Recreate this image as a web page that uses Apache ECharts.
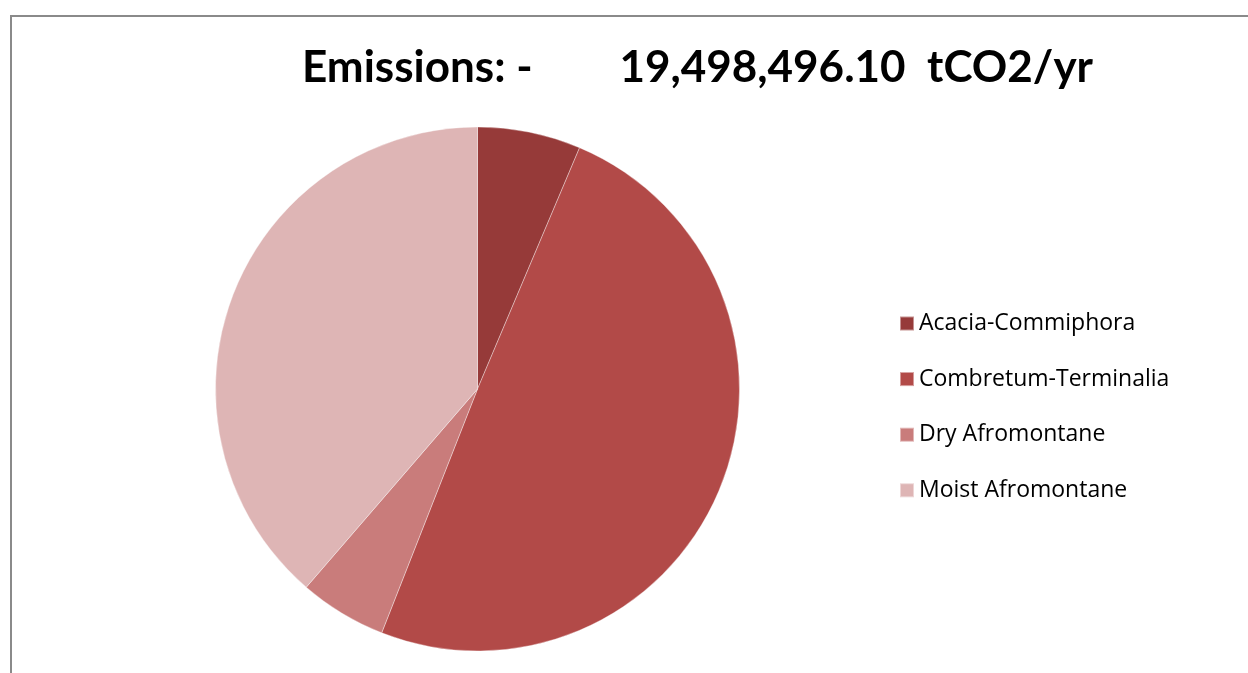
<!DOCTYPE html>
<html>
<head>
<meta charset="utf-8">
<script src="https://cdn.jsdelivr.net/npm/echarts@6/dist/echarts.min.js"></script>
<style>
  html, body { margin: 0; padding: 0; background: #ffffff; }
  #chart { width: 1248px; height: 673px; }
</style>
</head>
<body>
<div id="chart"></div>
<script>
// Forest types and their annual emissions (tCO2/yr)
const forestTypes = ['Acacia-Commiphora', 'Combretum-Terminalia', 'Dry Afromontane', 'Moist Afromontane'];
const emissions = [1242000.00, 9669000.00, 1049000.00, 7538496.10];
const sliceColors = ['#963a39', '#b24a48', '#c97c7b', '#deb5b5'];

const total = emissions.reduce((a, b) => a + b, 0);
function formatTotal(v) {
  const parts = v.toFixed(2).split('.');
  return parts[0].replace(/\B(?=(\d{3})+(?!\d))/g, ',') + '.' + parts[1];
}

const chart = echarts.init(document.getElementById('chart'), null, { renderer: 'canvas' });

const titleFont = { fontFamily: 'Lato', fontWeight: 'bold', fontSize: 44, color: '#000000' };

chart.setOption({
  backgroundColor: '#ffffff',
  animation: false,
  graphic: [{
    type: 'rect',
    shape: { x: 11, y: 16, width: 1400, height: 800 },
    style: { fill: 'none', stroke: '#8a8a8a', lineWidth: 2 },
    silent: true
  }],
  title: [
    { text: 'Emissions: -', left: 302, top: 46, padding: 0, textStyle: titleFont },
    { text: formatTotal(total) + '  tCO2/yr', right: 155, top: 46, padding: 0, textStyle: titleFont }
  ],
  legend: {
    orient: 'vertical',
    left: 899,
    top: 312,
    padding: 0,
    icon: 'rect',
    itemWidth: 14,
    itemHeight: 14,
    itemGap: 32.6,
    textStyle: { fontFamily: 'Open Sans', fontSize: 23, color: '#000000', lineHeight: 20, padding: [0, 0, 0, 0] },
    data: forestTypes
  },
  series: [{
    type: 'pie',
    center: [477.5, 389],
    radius: 262,
    startAngle: 90,
    clockwise: true,
    label: { show: false },
    labelLine: { show: false },
    emphasis: { disabled: true },
    itemStyle: { borderColor: 'rgba(255,255,255,0.45)', borderWidth: 0.8 },
    data: forestTypes.map((name, i) => ({
      name: name,
      value: emissions[i],
      itemStyle: { color: sliceColors[i] }
    }))
  }]
});
</script>
</body>
</html>
